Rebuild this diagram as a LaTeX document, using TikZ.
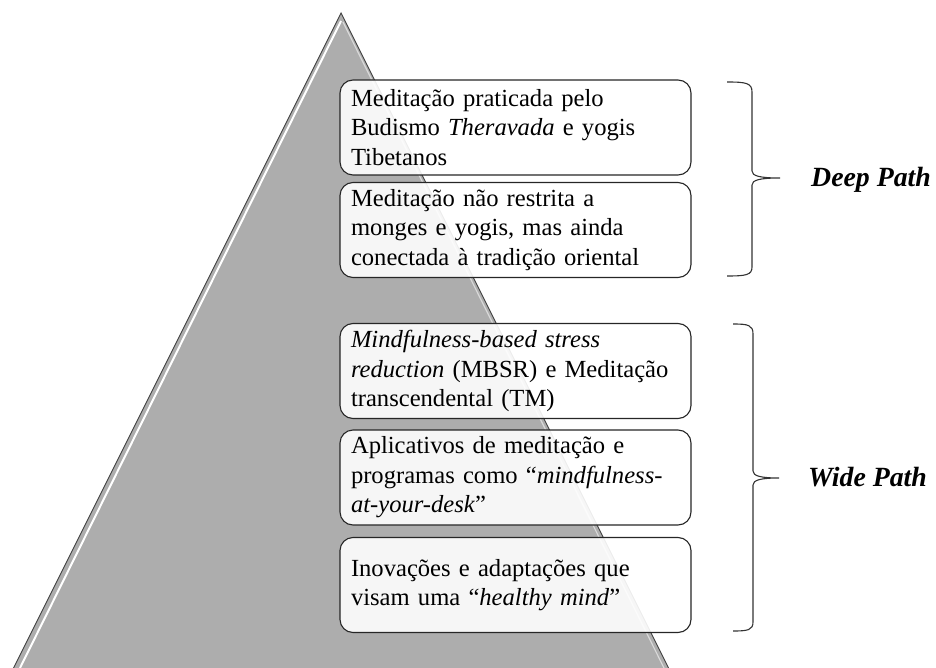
\documentclass[tikz,border=0pt]{standalone}
\usepackage{fontspec}
\setmainfont{Liberation Serif}
\definecolor{trigray}{RGB}{173,173,173}
\begin{document}
\begin{tikzpicture}[x=1pt,y=-1pt,
  box/.style={draw=black!85, line width=1.1pt, rounded corners=13pt, fill=white, fill opacity=0.9, text opacity=1,
    minimum width=351pt, minimum height=95pt, text width=329pt, align=left, inner sep=0pt,
    font=\fontsize{24.6}{29.5}\selectfont},
  lbl/.style={font=\fontsize{27.8}{30}\selectfont\bfseries\itshape, anchor=base west, inner sep=0pt},
  bracestyle/.style={line width=1.1pt, draw=black!80}]
\useasboundingbox (0,0) rectangle (936,668);
% pyramid
\fill[trigray] (341,13) -- (13.5,668) -- (668.5,668) -- cycle;
\draw[white, line width=2pt] (341,21) -- (20,668);
\draw[white!85!black, line width=1.2pt] (343,22) -- (664,668);
\draw[black!75, line width=0.9pt] (13.5,668) -- (341,13) -- (668.5,668);
% boxes
\node[box] (b1) at (515.5,127.5) {Meditação praticada pelo\\Budismo \textit{Theravada} e yogis\\Tibetanos};
\node[box] (b2) at (515.5,230) {Meditação não restrita a\\monges e yogis, mas ainda\\conectada à tradição oriental};
\node[box] (b3) at (515.5,371) {\textit{Mindfulness-based stress}\\\mbox{\textit{reduction} (MBSR) e Meditação}\\transcendental (TM)};
\node[box] (b4) at (515.5,477.5) {Aplicativos de meditação e\\programas como “\textit{mindfulness-}\\\textit{at-your-desk}”};
\node[box] (b5) at (515.5,585) {Inovações e adaptações que\\visam uma “\textit{healthy mind}”};
% braces
\draw[bracestyle] (727,82) .. controls (746,82) and (752,83) .. (752,92) -- (752,171)
  .. controls (752,176) and (760,178) .. (780,178)
  .. controls (760,178) and (752,180) .. (752,185) -- (752,267)
  .. controls (752,275) and (746,276) .. (727,276);
\draw[bracestyle] (733,324) .. controls (748,324) and (753,325) .. (753,334) -- (753,471)
  .. controls (753,476) and (761,478) .. (779,478)
  .. controls (761,478) and (753,480) .. (753,485) -- (753,622)
  .. controls (753,630) and (748,631) .. (733,631);
% labels
\node[lbl] (deep) at (811,187) {Deep Path};
\node[lbl] (wide) at (808,486) {Wide Path};
\end{tikzpicture}
\end{document}
